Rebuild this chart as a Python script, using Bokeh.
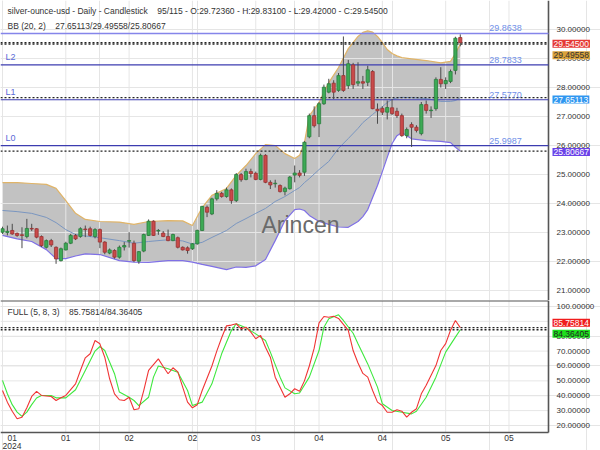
from bokeh.plotting import figure
from bokeh.models import Range1d, Label
from bokeh.layouts import column
from bokeh.embed import file_html
from bokeh.resources import INLINE

# ---------------- data ----------------
opens = [23.01, 23.00, 23.07, 22.97, 22.92, 22.86, 23.14, 23.13, 22.86, 22.49,
         22.72, 22.49, 22.03, 22.40, 22.63, 22.90, 22.86, 23.12, 23.13, 22.86,
         23.10, 22.67, 22.29, 22.38, 22.15, 22.50, 22.70, 22.63, 22.01, 22.36,
         22.90, 23.39, 23.05, 22.98, 22.86, 22.72, 22.82, 22.49, 22.47, 22.44,
         22.61, 23.07, 23.87, 23.64, 24.16, 24.35, 24.24, 24.47, 24.10, 25.00,
         24.83, 25.10, 25.04, 24.83, 25.66, 24.73, 24.68, 24.62, 24.41, 24.51,
         24.98, 25.05, 25.08, 26.30, 27.03, 26.75, 27.44, 27.84, 28.15, 27.90,
         28.41, 28.07, 28.78, 28.15, 28.20, 28.18, 28.55, 27.25, 27.28, 27.15,
         27.30, 27.18, 27.03, 26.34, 26.72, 26.63, 26.41, 27.41, 27.20, 27.27,
         28.28, 28.13, 28.21, 28.59, 29.7236]
highs = [23.20, 23.24, 23.30, 23.00, 23.18, 23.47, 23.30, 23.15, 22.90, 22.76,
         22.78, 22.52, 22.48, 22.68, 22.95, 22.95, 23.18, 23.24, 23.20, 23.15,
         23.14, 22.70, 22.45, 22.42, 22.55, 22.67, 23.01, 22.72, 22.36, 22.96,
         23.45, 23.42, 23.12, 23.05, 23.10, 22.96, 22.86, 22.52, 22.52, 22.64,
         23.10, 23.92, 23.93, 24.20, 24.46, 24.40, 24.55, 24.52, 25.05, 25.05,
         25.20, 25.20, 25.10, 25.72, 25.70, 24.80, 24.82, 24.66, 24.58, 24.95,
         25.31, 25.15, 26.15, 27.10, 27.35, 27.50, 28.10, 28.30, 28.25, 28.50,
         29.76, 28.95, 28.85, 28.87, 28.40, 28.75, 28.60, 27.45, 27.35, 27.55,
         27.60, 27.30, 27.10, 26.62, 26.80, 26.70, 27.50, 27.55, 27.35, 28.35,
         28.70, 28.35, 28.62, 29.75, 29.831]
lows = [22.95, 22.90, 22.92, 22.85, 22.46, 22.80, 23.05, 22.80, 22.50, 22.45,
        22.50, 21.92, 22.00, 22.38, 22.60, 22.74, 22.82, 22.84, 22.86, 22.80,
        22.46, 22.25, 22.25, 22.10, 22.10, 22.38, 22.48, 21.98, 21.92, 22.32,
        22.88, 22.88, 22.92, 22.84, 22.70, 22.70, 22.45, 22.38, 22.27, 22.40,
        22.58, 23.05, 23.53, 23.60, 24.10, 24.20, 24.20, 23.99, 24.05, 24.75,
        24.80, 24.90, 24.80, 24.80, 24.70, 24.50, 24.55, 24.38, 24.28, 24.48,
        24.73, 24.90, 24.95, 26.25, 26.62, 26.29, 27.40, 27.80, 27.60, 27.85,
        27.85, 27.95, 27.95, 28.05, 27.95, 28.05, 27.25, 26.75, 27.05, 26.90,
        27.05, 26.95, 26.30, 26.25, 25.95, 26.45, 26.35, 27.10, 26.95, 27.20,
        28.00, 27.95, 28.15, 28.45, 29.42]
closes = [23.13, 23.04, 22.95, 22.90, 22.90, 23.14, 23.12, 22.84, 22.55, 22.72,
          22.57, 22.09, 22.44, 22.63, 22.90, 22.78, 23.13, 23.10, 22.90, 23.10,
          22.67, 22.32, 22.40, 22.15, 22.49, 22.55, 22.72, 22.03, 22.34, 22.93,
          23.39, 22.90, 23.07, 22.86, 22.72, 22.93, 22.49, 22.40, 22.38, 22.61,
          23.07, 23.90, 23.70, 24.16, 24.35, 24.24, 24.47, 24.10, 25.00, 24.82,
          25.10, 25.03, 24.83, 25.66, 24.73, 24.64, 24.70, 24.41, 24.53, 24.91,
          25.05, 24.97, 26.11, 27.03, 26.68, 27.44, 28.01, 28.13, 27.84, 28.41,
          27.90, 28.82, 28.10, 28.20, 28.15, 28.61, 27.27, 27.20, 27.15, 27.31,
          27.10, 27.03, 26.34, 26.55, 26.63, 26.52, 27.41, 27.21, 27.22, 28.28,
          28.13, 28.24, 28.55, 29.70, 29.545]

bb_idx = [0, 3, 6, 9, 11, 13, 15, 17, 20, 24, 27, 30, 34, 37, 39, 41, 43, 46, 48, 50,
          52, 54, 56, 58, 60, 61, 62, 63, 65, 67, 69, 71, 73, 74, 75, 76, 77, 78, 79, 80,
          81, 82, 84, 87, 90, 92, 93, 94]
bb_upper = [24.72, 24.72, 24.69, 24.66, 24.52, 24.10, 23.66, 23.45, 23.38, 23.36,
            23.28, 23.38, 23.41, 23.40, 23.24, 23.86, 24.28, 24.52, 24.97, 25.31,
            25.72, 26.03, 26.00, 25.72, 25.55, 25.66, 26.10, 27.03, 27.48, 28.17,
            28.69, 29.34, 29.76, 29.90, 29.95, 29.91, 29.76, 29.55, 29.31, 29.17,
            29.09, 29.03, 28.99, 28.93, 28.85, 28.90, 29.17, 29.4956]
bb_mid = [23.76, 23.72, 23.66, 23.52, 23.34, 23.10, 22.93, 22.88, 22.82, 22.72,
          22.63, 22.69, 22.75, 22.71, 22.60, 22.66, 22.83, 23.07, 23.31, 23.48,
          23.66, 23.83, 24.07, 24.24, 24.45, 24.55, 24.72, 24.86, 25.17, 25.45,
          25.90, 26.24, 26.59, 26.79, 26.93, 27.07, 27.21, 27.34, 27.48, 27.59,
          27.64, 27.66, 27.65, 27.62, 27.52, 27.52, 27.55, 27.6511]
bb_lower = [22.90, 22.78, 22.69, 22.41, 22.10, 22.10, 22.19, 22.26, 22.24, 22.03,
            21.98, 21.97, 22.03, 22.03, 21.98, 21.90, 21.83, 21.72, 21.81, 21.80,
            21.85, 22.07, 22.72, 23.41, 23.79, 23.81, 23.76, 23.59, 23.38, 23.28,
            23.19, 23.18, 23.38, 23.55, 23.79, 24.21, 24.62, 25.10, 25.59, 26.07,
            26.34, 26.45, 26.23, 26.17, 26.14, 26.10, 25.94, 25.8067]

k_idx = [0, 1, 2, 3, 4, 5, 6, 7, 8, 10, 11, 12, 13, 15, 16, 17, 18, 19, 20, 21,
         22, 23, 24, 25, 26, 27, 28, 29, 30, 32, 33, 34, 35, 36, 37, 38, 39, 40, 41, 43,
         44, 45, 46, 47, 48, 49, 50, 51, 52, 53, 54, 55, 56, 58, 59, 60, 61, 62, 63, 64,
         65, 66, 67, 68, 69, 71, 72, 73, 74, 75, 76, 77, 78, 79, 80, 81, 82, 83, 84, 85,
         86, 87, 89, 90, 91, 92, 93, 94]
k_val = [43.5, 35.7, 29.6, 24.5, 25.5, 31.9, 39.5, 42.9, 40.2, 39.5, 36.8, 38.6, 40.2,
         48.0, 57.0, 65.5, 68.2, 77.1, 74.9, 65.9, 51.4, 41.3, 37.3, 36.8, 39.0, 30.6,
         31.3, 43.5, 57.0, 64.8, 59.7, 54.8, 58.8, 56.0, 45.8, 35.7, 31.9, 34.0, 43.5,
         60.0, 70.0, 79.0, 87.0, 87.5, 88.4, 85.0, 86.1, 82.8, 78.3, 80.6, 72.6, 65.9,
         52.5, 39.0, 41.3, 44.7, 43.0, 50.0, 60.0, 72.0, 89.0, 93.3, 92.8, 93.5, 92.0,
         83.9, 70.4, 62.0, 55.0, 52.5, 43.5, 35.7, 33.4, 28.9, 28.9, 30.6, 29.6, 25.6,
         28.9, 31.3, 41.3, 47.0, 60.3, 70.4, 75.0, 84.0, 90.6, 85.75814]
d_idx = [0, 1, 2, 3, 4, 5, 6, 7, 8, 10, 11, 13, 15, 17, 19, 20, 21, 23, 24, 26,
         27, 28, 30, 31, 32, 34, 36, 38, 39, 41, 43, 45, 47, 48, 50, 52, 54, 55, 57, 58,
         60, 61, 63, 65, 66, 67, 69, 70, 72, 73, 75, 77, 78, 80, 82, 84, 85, 87, 89, 91,
         93, 94]
d_val = [50.3, 41.3, 34.0, 29.0, 26.1, 29.0, 34.0, 38.5, 40.2, 40.2, 38.6, 38.6, 44.0,
         57.0, 70.0, 73.1, 70.4, 54.8, 42.5, 39.0, 36.8, 33.4, 39.0, 52.5, 60.0, 58.1,
         55.8, 43.5, 33.4, 35.7, 48.0, 68.2, 83.9, 88.4, 85.7, 81.6, 77.1, 69.3, 52.5,
         45.3, 41.3, 41.9, 52.5, 70.4, 86.1, 91.7, 94.4, 90.6, 82.0, 74.9, 61.4, 45.8,
         34.6, 30.1, 28.9, 27.8, 29.6, 39.0, 52.5, 69.3, 79.4, 84.36405]

level_names = ["L2", "L1", "L0"]
level_values = [28.7833, 27.5770, 25.9987]
top_level = 29.8638
last_close = 29.545
bb_last = [27.65113, 29.49558, 25.80667]   # mid / upper / lower
stoch_last = [85.75814, 84.36405]

x_ticks = [0, 13, 26, 39, 52, 65, 78, 91, 104]
x_tick_labels = ["01", "01", "02", "02", "03", "04", "04", "05", "05"]
year_label = "2024"
price_ticks = [21, 22, 23, 24, 25, 26, 27, 28, 29, 30]
stoch_ticks = [20, 30, 40, 50, 60, 70, 80, 90, 100]

title_main = ("silver-ounce-usd - Daily - Candlestick\u00a0\u00a0\u00a0\u00a095/115 - "
              "O:29.72360 - H:29.83100 - L:29.42000 - C:29.54500")
title_bb = "BB (20, 2)\u00a0\u00a0\u00a0\u00a027.65113/29.49558/25.80667"
title_stoch = "FULL (5, 8, 3)\u00a0\u00a0\u00a0\u00a085.75814/84.36405"

# ---------------- layout constants ----------------
FONT = "Liberation Sans"
GRID = "#e6e6e6"
AX = "#555555"
PX = 4.87                       # pixels per bar
X0 = -0.41                      # left edge of the plot in bar units
X1 = X0 + 600 / PX              # right edge of the canvas
XA = X0 + 548 / PX              # position of the price scale line
LABEL_X = 556                   # screen x of scale texts
BOX_X = 552                     # screen x of the value boxes

P_TOP, P_BOT = 31.0, 31.0 - 300 / 29.0
S_PXU = 1.4875                  # pixels per stochastic unit
S_TOP = 104.03
S_PLOT_BOT = S_TOP - 132 / S_PXU
S_BOT = S_TOP - 150 / S_PXU

idx = list(range(len(opens)))
xr = Range1d(X0, X1)


def frame_fig(height, yr):
    p = figure(width=600, height=height, x_range=xr, y_range=yr,
               output_backend="svg", toolbar_location=None, y_axis_location=None,
               x_axis_location=None, min_border_left=0, min_border_right=0,
               min_border_top=0, min_border_bottom=0)
    p.outline_line_color = None
    return p


def grid_and_scale(p, ticks, y0, y1):
    n = len(ticks)
    p.segment(x0=[X0] * n, x1=[XA] * n, y0=ticks, y1=ticks, line_color=GRID,
              line_width=1, level="underlay")
    m = len(x_ticks)
    p.segment(x0=x_ticks, x1=x_ticks, y0=[y0] * m, y1=[y1] * m, line_color=GRID,
              line_width=1, level="underlay")
    p.segment(x0=[XA], x1=[XA], y0=[y0], y1=[y1], line_color=AX, line_width=1.6)
    for t in ticks:
        p.add_layout(Label(x=LABEL_X, y=t, x_units="screen", y_units="data",
                           text=f"{t:.5f}", text_font=FONT, text_font_size="8px",
                           text_color="#333333", text_baseline="middle"))


def txt(p, x, y, s, size="8.5px", color="#333333", align="left", base="middle",
        xu="screen", yu="screen", yoff=0, xoff=0):
    p.add_layout(Label(x=x, y=y, x_units=xu, y_units=yu, text=s, text_font=FONT,
                       text_font_size=size, text_color=color, text_align=align,
                       text_baseline=base, y_offset=yoff, x_offset=xoff))


def hline(p, v, color, width, dash="solid"):
    p.segment(x0=[X0], x1=[XA], y0=[v], y1=[v], line_color=color, line_width=width,
              line_dash=dash)


def vbox(p, v, s, bg, fg, yoff):
    p.add_layout(Label(x=BOX_X, y=v, x_units="screen", y_units="data", text=s,
                       text_font=FONT, text_font_size="8.5px", text_color=fg,
                       text_baseline="middle", background_fill_color=bg,
                       y_offset=yoff, padding=1))


# ---------------- price panel ----------------
p1 = frame_fig(300, Range1d(P_BOT, P_TOP))

p1.varea(x=bb_idx, y1=bb_lower, y2=bb_upper, fill_color="#c2c2c2", level="underlay")
grid_and_scale(p1, price_ticks, P_BOT, P_TOP)
p1.line(bb_idx, bb_upper, line_color="#e0b468", line_width=1.2)
p1.line(bb_idx, bb_lower, line_color="#7f70e6", line_width=1.2)
p1.line(bb_idx, bb_mid, line_color="#7a96c0", line_width=1)

hline(p1, top_level, "#8585ea", 1.6)
for v in level_values:
    hline(p1, v, "#3c3cb0", 1.2)
for v in [last_close] + bb_last:
    hline(p1, v, "#222222", 1.4, "2 2")

wick = "#4a4a4a"
p1.segment(x0=idx, y0=lows, x1=idx, y1=highs, line_color=wick, line_width=1)
up = [i for i in idx if closes[i] >= opens[i]]
dn = [i for i in idx if closes[i] < opens[i]]
p1.vbar(x=up, bottom=[opens[i] for i in up], top=[closes[i] for i in up], width=0.66,
        fill_color="#3daa55", line_color="#2a7e3e", line_width=0.8)
p1.vbar(x=dn, bottom=[closes[i] for i in dn], top=[opens[i] for i in dn], width=0.66,
        fill_color="#c94a4a", line_color="#9a3232", line_width=0.8)

txt(p1, 7, 290, title_main)
txt(p1, 7, 275, title_bb)
txt(p1, 300, 76, "Arincen", size="23px", color="#6a6a6a", align="center")

txt(p1, 505, top_level, f"{top_level:.4f}", size="9px", color="#6f8fe8", align="center",
    base="bottom", yu="data", yoff=2)
for n, v in zip(level_names, level_values):
    txt(p1, 5, v, n, size="9px", color="#5a6ad8", base="bottom", yu="data", yoff=3)
    txt(p1, 505, v, f"{v:.4f}", size="9px", color="#6f8fe8", align="center",
        base="bottom", yu="data", yoff=2)

vbox(p1, last_close, f"{last_close:.5f}", "#e53935", "white", -1)
vbox(p1, bb_last[1], f"{bb_last[1]:.5f}", "#d9a23a", "#333333", -11)
vbox(p1, bb_last[0], f"{bb_last[0]:.5f}", "#2f96f0", "white", -2)
vbox(p1, bb_last[2], f"{bb_last[2]:.5f}", "#6a42e8", "white", -1)

# ---------------- stochastic panel (with date scale below) ----------------
p2 = frame_fig(150, Range1d(S_BOT, S_TOP))
grid_and_scale(p2, stoch_ticks, S_PLOT_BOT, S_TOP)
hline(p2, S_TOP, AX, 2.2)
hline(p2, S_PLOT_BOT, AX, 1.5)

for k, (t, lab) in enumerate(zip(x_ticks, x_tick_labels)):
    if k == 0:
        txt(p2, t, 13, lab, align="left", xu="data", xoff=5)
    else:
        txt(p2, t, 13, lab, align="center", xu="data")
txt(p2, x_ticks[0], 2, year_label, align="left", base="bottom", xu="data")

for v in stoch_last:
    hline(p2, v, "#222222", 1.3, "2 2")
p2.line(d_idx, d_val, line_color="#3ee83e", line_width=1.1)
p2.line(k_idx, k_val, line_color="#f03535", line_width=1.1)

txt(p2, 7, 139, title_stoch)
vbox(p2, stoch_last[0], f"{stoch_last[0]:.5f}", "#f01c1c", "white", 5)
vbox(p2, stoch_last[1], f"{stoch_last[1]:.5f}", "#1ee01e", "#222222", -4)

layout = column(p1, p2, spacing=0)
open("out.html", "w").write(file_html(layout, INLINE))
